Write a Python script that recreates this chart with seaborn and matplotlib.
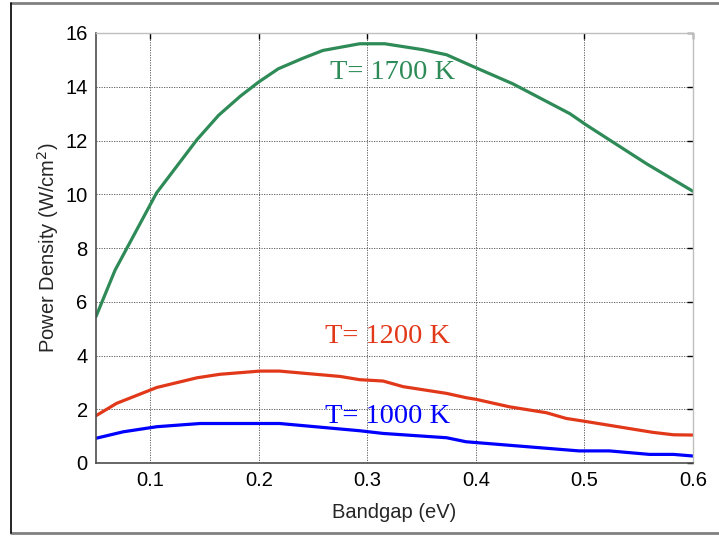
import matplotlib
matplotlib.use("Agg")
import matplotlib.pyplot as plt
from matplotlib.lines import Line2D
import seaborn as sns
import pandas as pd
import numpy as np

# ---- data ----
x_1700 = [0.05, 0.0675, 0.1058, 0.143, 0.163, 0.183, 0.200, 0.218, 0.240, 0.259,
          0.293, 0.316, 0.351, 0.373, 0.397, 0.434, 0.4865, 0.502, 0.557, 0.6]
y_1700 = [5.45, 7.17, 10.05, 12.03, 12.94, 13.65, 14.18, 14.67, 15.05, 15.35,
          15.6, 15.6, 15.38, 15.19, 14.76, 14.11, 13.0, 12.57, 11.14, 10.11]

x_1200 = [0.05, 0.069, 0.106, 0.143, 0.164, 0.201, 0.219, 0.275, 0.293, 0.3145,
          0.333, 0.373, 0.391, 0.4, 0.431, 0.465, 0.483, 0.502, 0.563, 0.582, 0.6]
y_1200 = [1.76, 2.22, 2.81, 3.17, 3.30, 3.42, 3.42, 3.22, 3.10, 3.05,
          2.84, 2.59, 2.43, 2.37, 2.09, 1.87, 1.66, 1.54, 1.14, 1.05, 1.04]

x_1000 = [0.05, 0.075, 0.106, 0.146, 0.219, 0.293, 0.3145, 0.373, 0.391, 0.495,
          0.523, 0.56, 0.582, 0.6]
y_1000 = [0.92, 1.16, 1.35, 1.47, 1.47, 1.20, 1.10, 0.94, 0.79, 0.45,
          0.45, 0.32, 0.32, 0.26]

series_names = ["T= 1700 K", "T= 1200 K", "T= 1000 K"]
series_colors = ["#2E8B57", "#E2381A", "#0000FF"]
label_pos = [(0.2655, 14.27), (0.261, 4.46), (0.261, 1.49)]

xticks = [0.1, 0.2, 0.3, 0.4, 0.5, 0.6]
yticks = [0, 2, 4, 6, 8, 10, 12, 14, 16]

df = pd.concat([
    pd.DataFrame({"x": x_1700, "y": y_1700, "s": series_names[0]}),
    pd.DataFrame({"x": x_1200, "y": y_1200, "s": series_names[1]}),
    pd.DataFrame({"x": x_1000, "y": y_1000, "s": series_names[2]}),
], ignore_index=True)

sns.set_style("white")
plt.rcParams["font.family"] = ["Liberation Sans", "DejaVu Sans"]

fig = plt.figure(figsize=(7.19, 5.38), dpi=100)
ax = fig.add_axes([96/719, 1-463/538, (693-96)/719, (463-33)/538])

sns.lineplot(data=df, x="x", y="y", hue="s", palette=series_colors,
             hue_order=series_names, sort=False, estimator=None,
             linewidth=2.3, legend=False, ax=ax)

ax.set_xlim(0.05, 0.6)
ax.set_ylim(0, 16)
ax.set_xticks(xticks)
ax.set_xticklabels([f"{v:g}" for v in xticks])
ax.set_yticks(yticks)
ax.set_yticklabels([str(v) for v in yticks])
ax.grid(True, color="0.3", linestyle=(0, (1.5, 1.5)), linewidth=0.6)
ax.set_axisbelow(True)

ax.tick_params(axis="both", which="both", direction="in", length=4, width=1,
               top=True, right=True, labelsize=14.5, colors="black", pad=6)
for side in ["left", "bottom"]:
    ax.spines[side].set_color("0.3")
    ax.spines[side].set_linewidth(1.2)
for side in ["top", "right"]:
    ax.spines[side].set_color("0.75")
    ax.spines[side].set_linewidth(1.0)

ax.set_xlabel("Bandgap (eV)", fontsize=14.5, labelpad=9)
ax.set_ylabel("Power Density (W/cm$^2$)", fontsize=14.5, labelpad=3)

for name, col, (tx, ty) in zip(series_names, series_colors, label_pos):
    ax.text(tx, ty, name, color=col, fontsize=20.5, family="Liberation Serif",
            ha="left", va="baseline")

# outer frame
fig.add_artist(Line2D([11/719, 1], [1-3/538, 1-3/538], color="0.5", lw=2,
                      transform=fig.transFigure))
fig.add_artist(Line2D([11/719, 1], [1-533/538, 1-533/538], color="0.5", lw=2,
                      transform=fig.transFigure))
fig.add_artist(Line2D([11/719, 11/719], [1-3/538, 1-533/538], color="black", lw=1.2,
                      transform=fig.transFigure))

fig.savefig("out.png", dpi=100)
